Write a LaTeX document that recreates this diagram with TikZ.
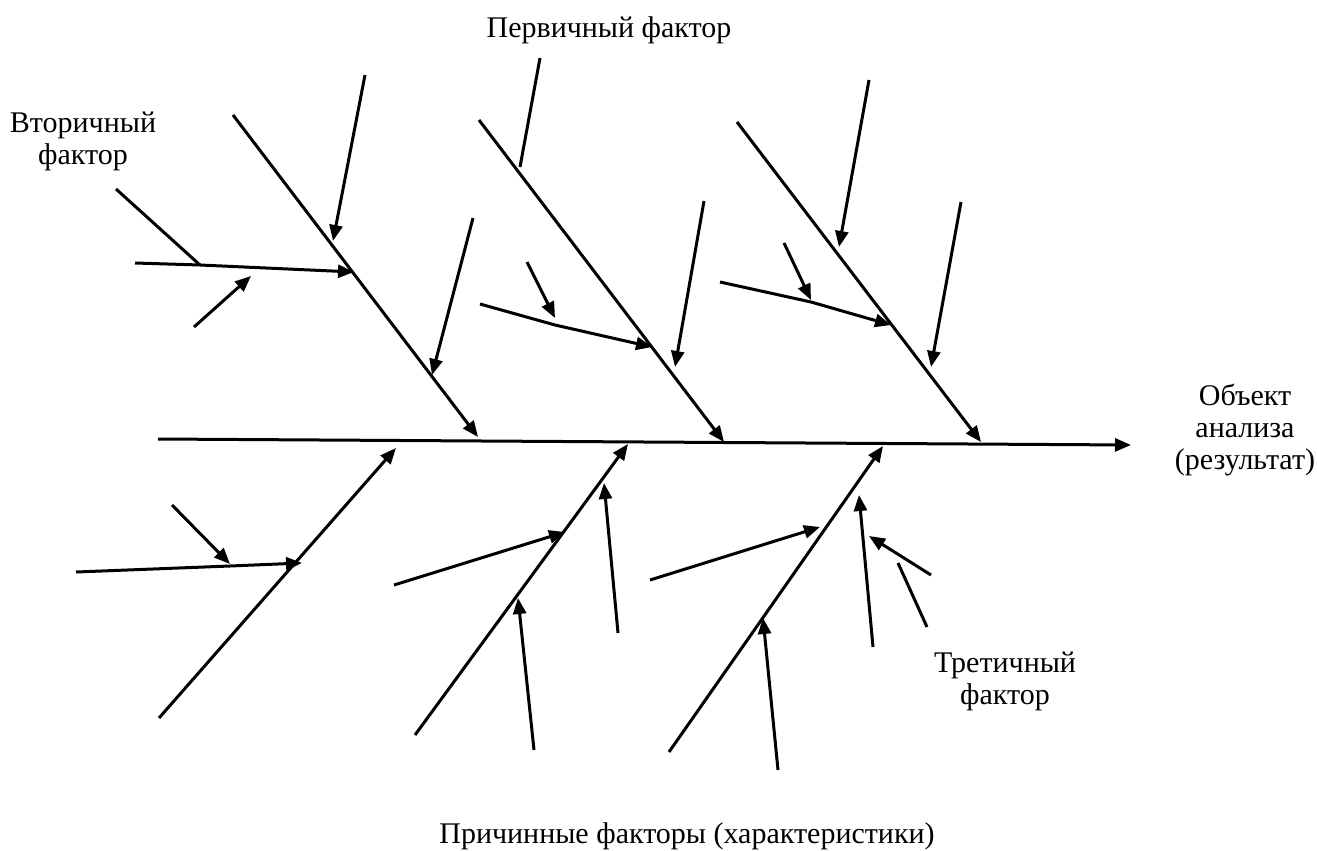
\documentclass[tikz,border=0pt]{standalone}
\usepackage{fontspec}
\setmainfont{Liberation Serif}
\usetikzlibrary{arrows.meta}
\begin{document}
\begin{tikzpicture}[x=0.5pt,y=-0.5pt,
  bone/.style={line width=1.5pt},
  arr/.style={line width=1.5pt,-{Triangle[length=8pt,width=6.5pt]}},
  lbl/.style={font=\fontsize{15pt}{16pt}\selectfont, align=center, inner sep=0pt}]
\useasboundingbox (0,0) rectangle (1317,851);
% spine
\coordinate (s0) at (158,439);
\coordinate (s1) at (1131,445);
\draw[arr] (s0) -- (s1);
% ---------- upper bone 1
\coordinate (u1a) at (233,115);
\coordinate (u1b) at (478,437);
\draw[arr] (u1a) -- (u1b);
\coordinate (u1p) at (365,75);   \coordinate (u1pt) at (333,241);
\draw[arr] (u1p) -- (u1pt);
\coordinate (u1q) at (473,218);  \coordinate (u1qt) at (432,375);
\draw[arr] (u1q) -- (u1qt);
\coordinate (u1s) at (135,263);  \coordinate (u1m) at (200,265); \coordinate (u1st) at (354,272);
\draw[arr] (u1s) -- (u1m) -- (u1st);
\coordinate (u1v) at (116,189);
\draw[bone] (u1v) -- (u1m);
\coordinate (u1w) at (194,327);  \coordinate (u1wt) at (251,276);
\draw[arr] (u1w) -- (u1wt);
% ---------- upper bone 2
\coordinate (u2a) at (479,120);
\coordinate (u2b) at (724,442);
\draw[arr] (u2a) -- (u2b);
\coordinate (u2p) at (540,58);   \coordinate (u2pt) at (520,167);
\draw[bone] (u2p) -- (u2pt);
\coordinate (u2q) at (704,201);  \coordinate (u2qt) at (675,367);
\draw[arr] (u2q) -- (u2qt);
\coordinate (u2s) at (480,304);  \coordinate (u2m) at (555,325); \coordinate (u2st) at (652,347);
\draw[arr] (u2s) -- (u2m) -- (u2st);
\coordinate (u2w) at (527,262);  \coordinate (u2wt) at (555,318);
\draw[arr] (u2w) -- (u2wt);
% ---------- upper bone 3
\coordinate (u3a) at (737,122);
\coordinate (u3b) at (981,442);
\draw[arr] (u3a) -- (u3b);
\coordinate (u3p) at (869,80);   \coordinate (u3pt) at (839,247);
\draw[arr] (u3p) -- (u3pt);
\coordinate (u3q) at (961,202);  \coordinate (u3qt) at (931,367);
\draw[arr] (u3q) -- (u3qt);
\coordinate (u3s) at (720,282);  \coordinate (u3m) at (811,302); \coordinate (u3st) at (891,325);
\draw[arr] (u3s) -- (u3m) -- (u3st);
\coordinate (u3w) at (784,243);  \coordinate (u3wt) at (811,300);
\draw[arr] (u3w) -- (u3wt);
% ---------- lower bone 1
\coordinate (l1a) at (159,718);
\coordinate (l1b) at (396,448);
\draw[arr] (l1a) -- (l1b);
\coordinate (l1s) at (76,572);   \coordinate (l1m) at (230,566); \coordinate (l1st) at (302,563);
\draw[arr] (l1s) -- (l1m) -- (l1st);
\coordinate (l1w) at (172,505);  \coordinate (l1wt) at (230,564);
\draw[arr] (l1w) -- (l1wt);
% ---------- lower bone 2
\coordinate (l2a) at (415,735);
\coordinate (l2b) at (628,444);
\draw[arr] (l2a) -- (l2b);
\coordinate (l2s) at (394,585);  \coordinate (l2st) at (565,532);
\draw[arr] (l2s) -- (l2st);
\coordinate (l2p) at (534,750);  \coordinate (l2pt) at (518,598);
\draw[arr] (l2p) -- (l2pt);
\coordinate (l2q) at (618,633);  \coordinate (l2qt) at (604,483);
\draw[arr] (l2q) -- (l2qt);
% ---------- lower bone 3
\coordinate (l3a) at (669,752);
\coordinate (l3b) at (883,446);
\draw[arr] (l3a) -- (l3b);
\coordinate (l3s) at (650,580);  \coordinate (l3st) at (820,527);
\draw[arr] (l3s) -- (l3st);
\coordinate (l3p) at (778,770);  \coordinate (l3pt) at (763,618);
\draw[arr] (l3p) -- (l3pt);
\coordinate (l3q) at (873,647);  \coordinate (l3qt) at (859,495);
\draw[arr] (l3q) -- (l3qt);
\coordinate (l3w) at (931,575);  \coordinate (l3wt) at (869,536);
\draw[arr] (l3w) -- (l3wt);
\coordinate (l3v) at (927,627);  \coordinate (l3vt) at (898,563);
\draw[bone] (l3v) -- (l3vt);
% ---------- labels
\node[lbl] (secondary) at (83,141) {Вторичный\\фактор};
\node[lbl] (primary) at (609,30) {Первичный фактор};
\node[lbl] (object) at (1245,430) {Объект\\анализа\\(результат)};
\node[lbl] (tertiary) at (1005,681) {Третичный\\фактор};
\node[lbl] (causes) at (687,836) {Причинные факторы (характеристики)};
\end{tikzpicture}
\end{document}
